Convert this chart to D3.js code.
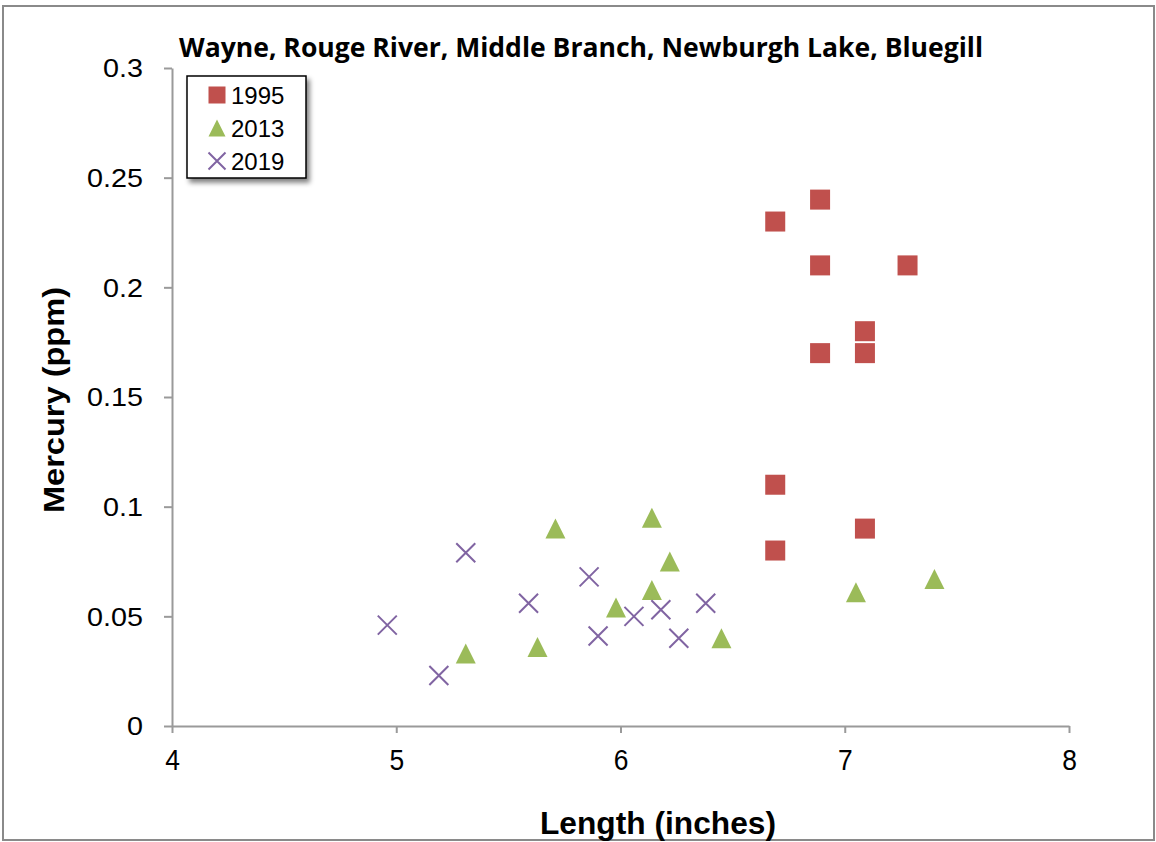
<!DOCTYPE html>
<html><head><meta charset="utf-8">
<script src="https://cdn.jsdelivr.net/npm/d3@7"></script>
<style>body{margin:0;background:#fff}</style>
</head><body><svg id="c" width="1156" height="842"></svg>
<script>
const titleText = "Wayne, Rouge River, Middle Branch, Newburgh Lake, Bluegill";
const xLabel = "Length (inches)";
const yLabel = "Mercury (ppm)";
const xTicks = [4, 5, 6, 7, 8];
const yTicks = [0, 0.05, 0.1, 0.15, 0.2, 0.25, 0.3];
const yTickLabels = ["0", "0.05", "0.1", "0.15", "0.2", "0.25", "0.3"];
const seriesNames = ["1995", "2013", "2019"];
const seriesColors = ["#C0504D", "#9BBB59", "#8064A2"];
const len1995 = [6.69, 6.89, 6.89, 7.28, 7.09, 6.89, 7.09, 6.69, 7.09, 6.69];
const hg1995  = [0.23, 0.24, 0.21, 0.21, 0.18, 0.17, 0.17, 0.11, 0.09, 0.08];
const len2013 = [5.71, 6.14, 6.22, 6.14, 5.98, 5.63, 5.31, 6.45, 7.05, 7.4];
const hg2013  = [0.09, 0.095, 0.075, 0.062, 0.054, 0.036, 0.033, 0.04, 0.061, 0.067];
const len2019 = [4.96, 5.19, 5.31, 5.59, 5.86, 5.9, 6.06, 6.18, 6.26, 6.38];
const hg2019  = [0.046, 0.023, 0.079, 0.056, 0.068, 0.041, 0.05, 0.053, 0.04, 0.056];

const svg = d3.select("#c");
const L = 172, R = 1069, T = 68, B = 726;
const x = d3.scaleLinear().domain([4, 8]).range([L, R]);
const y = d3.scaleLinear().domain([0, 0.3]).range([B, T]);
const axisColor = "#9a9a9a";

// outer border
svg.append("rect").attr("x", 3).attr("y", 6).attr("width", 1151).attr("height", 834)
  .attr("fill", "#fff").attr("stroke", "#8a8a8a").attr("stroke-width", 2);

// shadow filter
const defs = svg.append("defs");
const f = defs.append("filter").attr("id", "sh").attr("x", "-20%").attr("y", "-20%").attr("width", "150%").attr("height", "150%");
f.append("feGaussianBlur").attr("in", "SourceAlpha").attr("stdDeviation", 2.5).attr("result", "b");
f.append("feOffset").attr("in", "b").attr("dx", 3).attr("dy", 4).attr("result", "o");
f.append("feComponentTransfer").attr("in", "o").attr("result", "o2")
  .append("feFuncA").attr("type", "linear").attr("slope", 0.5);
const fm = f.append("feMerge");
fm.append("feMergeNode").attr("in", "o2");
fm.append("feMergeNode").attr("in", "SourceGraphic");

// axes
const xAxis = svg.append("g").attr("transform", `translate(0,${B})`)
  .call(d3.axisBottom(x).tickValues(xTicks).tickSize(7).tickSizeOuter(0).tickFormat(d3.format("d")));
const yAxis = svg.append("g").attr("transform", `translate(${L},0)`)
  .call(d3.axisLeft(y).tickValues(yTicks).tickSize(8).tickSizeOuter(0).tickFormat((d, i) => yTickLabels[i]));
[xAxis, yAxis].forEach(a => {
  a.select(".domain").attr("stroke", axisColor).attr("stroke-width", 2);
  a.selectAll(".tick line").attr("stroke", axisColor).attr("stroke-width", 2);
});
xAxis.selectAll(".tick text").attr("y", 0).attr("dy", 0)
  .attr("font-family", "Liberation Sans, Arial, sans-serif").attr("font-size", 30).attr("fill", "#000")
  .attr("transform", "translate(0,44) scale(0.88,1)");
yAxis.selectAll(".tick text").attr("x", 0).attr("dy", "0.35em")
  .attr("transform", "translate(-29,0) scale(1.15,1)")
  .attr("font-family", "Liberation Sans, Arial, sans-serif").attr("font-size", 25).attr("fill", "#000");

// title
svg.append("text").attr("x", 179).attr("y", 57).text(titleText)
  .attr("font-family", "Open Sans, Liberation Sans, sans-serif").attr("font-weight", "bold")
  .attr("font-size", 26).attr("textLength", 804).attr("lengthAdjust", "spacingAndGlyphs");

// axis titles
svg.append("text").attr("x", 540).attr("y", 834).text(xLabel)
  .attr("font-family", "Liberation Sans, Arial, sans-serif").attr("font-weight", "bold")
  .attr("font-size", 32).attr("textLength", 236).attr("lengthAdjust", "spacingAndGlyphs");
svg.append("text").attr("transform", "translate(64,513) rotate(-90)").text(yLabel)
  .attr("font-family", "Liberation Sans, Arial, sans-serif").attr("font-weight", "bold")
  .attr("font-size", 30).attr("textLength", 226).attr("lengthAdjust", "spacingAndGlyphs");

// marker drawers
function square(g, s, color) {
  g.append("rect").attr("x", -s / 2).attr("y", -s / 2).attr("width", s).attr("height", s).attr("fill", color);
}
function triangle(g, s, color) {
  g.append("path").attr("d", `M0,${-s / 2}L${s / 2},${s / 2}L${-s / 2},${s / 2}Z`).attr("fill", color);
}
function cross(g, s, color) {
  g.append("path").attr("d", `M${-s / 2},${-s / 2}L${s / 2},${s / 2}M${s / 2},${-s / 2}L${-s / 2},${s / 2}`)
    .attr("stroke", color).attr("stroke-width", 2).attr("fill", "none");
}
const drawers = [square, triangle, cross];
const data = [
  len1995.map((v, i) => [v, hg1995[i]]),
  len2013.map((v, i) => [v, hg2013[i]]),
  len2019.map((v, i) => [v, hg2019[i]])
];
const sizes = [20, 20, 19];
data.forEach((pts, si) => {
  svg.append("g").selectAll("g").data(pts).join("g")
    .attr("transform", d => `translate(${x(d[0])},${y(d[1])})`)
    .each(function () { drawers[si](d3.select(this), sizes[si], seriesColors[si]); });
});

// legend
const lg = svg.append("g");
lg.append("rect").attr("x", 187).attr("y", 76).attr("width", 119).attr("height", 102)
  .attr("fill", "#fff").attr("stroke", "#000").attr("stroke-width", 1.5).attr("filter", "url(#sh)");
const legY = [95, 128, 161];
seriesNames.forEach((n, i) => {
  const g = lg.append("g").attr("transform", `translate(217,${legY[i]})`);
  drawers[i](g, 17, seriesColors[i]);
  lg.append("text").attr("x", 231).attr("y", legY[i]).attr("dy", "0.36em").text(n)
    .attr("font-family", "Liberation Sans, Arial, sans-serif").attr("font-size", 24).attr("fill", "#000");
});
</script>
</body></html>
